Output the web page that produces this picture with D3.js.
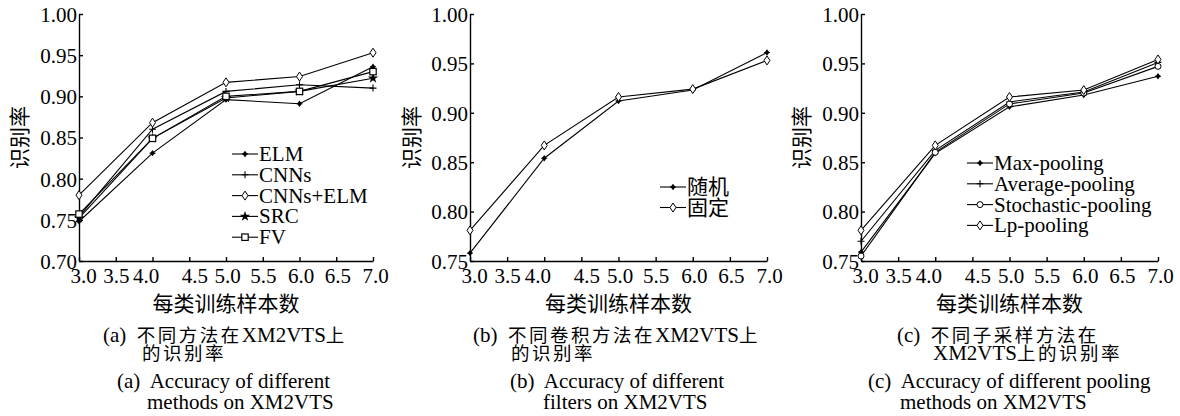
<!DOCTYPE html>
<html>
<head>
<meta charset="utf-8">
<script src="https://cdn.jsdelivr.net/npm/d3@7"></script>
<style>
  body { margin: 0; background: #fff; }
  svg { display: block; }
  text { font-family: "Liberation Serif", "Noto Sans CJK SC", serif; fill: #000; }
</style>
</head>
<body>
<svg id="chart" width="1180" height="416"></svg>
<script>
// Three small-multiple line charts: recognition rate vs. training samples per class

const X_VALUES = [3, 4, 5, 6, 7];
const X_TICKS = [3.0, 3.5, 4.0, 4.5, 5.0, 5.5, 6.0, 6.5, 7.0];
const X_TICK_DX = [4, 0, -7, 5, 1, 0, 1, 1, 2]; // the labels in the scan sit a bit off their ticks

// (a) methods
const A_NAMES = ["ELM", "CNNs", "CNNs+ELM", "SRC", "FV"];
const A_MARKERS = ["filled", "plus", "diamond", "star", "square"];
const A_ELM = [0.748, 0.831, 0.896, 0.891, 0.936];
const A_CNNS = [0.754, 0.860, 0.906, 0.914, 0.910];
const A_CNNS_ELM = [0.780, 0.868, 0.917, 0.924, 0.953];
const A_SRC = [0.752, 0.849, 0.898, 0.906, 0.922];
const A_FV = [0.757, 0.849, 0.900, 0.906, 0.930];
const A_Y_TICKS = [0.70, 0.75, 0.80, 0.85, 0.90, 0.95, 1.00];

// (b) filters
const B_NAMES = ["随机", "固定"];
const B_MARKERS = ["filled", "diamond"];
const B_RANDOM = [0.758, 0.854, 0.912, 0.923, 0.961];
const B_FIXED = [0.781, 0.867, 0.916, 0.924, 0.953];
const B_Y_TICKS = [0.75, 0.80, 0.85, 0.90, 0.95, 1.00];

// (c) pooling
const C_NAMES = ["Max-pooling", "Average-pooling", "Stochastic-pooling", "Lp-pooling"];
const C_MARKERS = ["filled", "plus", "circle", "diamond"];
const C_MAX = [0.759, 0.859, 0.906, 0.918, 0.937];
const C_AVG = [0.770, 0.862, 0.911, 0.921, 0.951];
const C_STOCH = [0.755, 0.860, 0.909, 0.920, 0.947];
const C_LP = [0.781, 0.867, 0.916, 0.923, 0.954];
const C_Y_TICKS = B_Y_TICKS;

const panels = [
  {
    left: 79, right: 373, yDomain: [0.70, 1.00], yTicks: A_Y_TICKS,
    names: A_NAMES, markers: A_MARKERS,
    series: [A_ELM, A_CNNS, A_CNNS_ELM, A_SRC, A_FV],
    legend: { x: 232, y: 154, step: 20.8 },
    yLabelX: 20,
    zh: [["(a)  不同方法在XM2VTS上", 103], ["的识别率", 142]],
    en: [["(a)  Accuracy of different", 117], ["methods on XM2VTS", 147]],
  },
  {
    left: 470, right: 767, yDomain: [0.75, 1.00], yTicks: B_Y_TICKS,
    names: B_NAMES, markers: B_MARKERS,
    series: [B_RANDOM, B_FIXED],
    legend: { x: 660, y: 187, step: 20.5 },
    yLabelX: 412,
    zh: [["(b)  不同卷积方法在XM2VTS上", 473], ["的识别率", 511]],
    en: [["(b)  Accuracy of different", 510], ["filters on XM2VTS", 543]],
  },
  {
    left: 861, right: 1158, yDomain: [0.75, 1.00], yTicks: C_Y_TICKS,
    names: C_NAMES, markers: C_MARKERS,
    series: [C_MAX, C_AVG, C_STOCH, C_LP],
    legend: { x: 967, y: 163, step: 20.8 },
    yLabelX: 802,
    zh: [["(c)  不同子采样方法在", 897], ["XM2VTS上的识别率", 933]],
    en: [["(c)  Accuracy of different pooling", 868], ["methods on XM2VTS", 900]],
  },
];

const TOP = 14;
const BOTTOM = 261;
const FONT = 21;
// Chinese glyphs in the captions are as wide as the Latin em but not as tall
const CJK_CAPTION = 18.5;
const CJK_SPACING = 2.5;

const svg = d3.select("#chart");

function drawMarker(g, type) {
  if (type === "filled") {
    g.append("path").attr("d", "M0,-3.2L2.4,0L0,3.2L-2.4,0Z").attr("fill", "#000");
    g.append("path").attr("d", "M-3,0H3").attr("stroke", "#000").attr("stroke-width", 1);
  } else if (type === "plus") {
    g.append("path").attr("d", "M-3.5,0H3.5M0,-3.5V3.5").attr("stroke", "#000").attr("stroke-width", 1.1);
  } else if (type === "diamond") {
    g.append("path").attr("d", "M0,-4.5L3,0L0,4.5L-3,0Z")
      .attr("fill", "#fff").attr("stroke", "#000").attr("stroke-width", 1);
  } else if (type === "star") {
    g.append("path").attr("d", d3.symbol(d3.symbolStar, 34)()).attr("fill", "#000");
  } else if (type === "square") {
    g.append("rect").attr("x", -3.2).attr("y", -3.2).attr("width", 6.4).attr("height", 6.4)
      .attr("fill", "#fff").attr("stroke", "#000").attr("stroke-width", 1.2);
  } else if (type === "circle") {
    g.append("circle").attr("r", 3).attr("fill", "#fff").attr("stroke", "#000").attr("stroke-width", 1);
  }
}

// mixed-script caption: Latin runs at FONT, Chinese runs smaller but spaced out
function captionText(g, str, x0, y0) {
  const t = g.append("text").attr("x", x0).attr("y", y0)
    .style("font-size", FONT + "px").style("white-space", "pre");
  str.split(/([\u3400-\u9fff]+)/).filter(s => s.length).forEach(run => {
    const cjk = /[\u3400-\u9fff]/.test(run);
    t.append("tspan")
      .style("font-size", (cjk ? CJK_CAPTION : FONT) + "px")
      .style("letter-spacing", (cjk ? CJK_SPACING : 0) + "px")
      .text(run);
  });
}

panels.forEach(p => {
  const x = d3.scaleLinear().domain([3, 7]).range([p.left, p.right]);
  const y = d3.scaleLinear().domain(p.yDomain).range([BOTTOM, TOP]);
  const g = svg.append("g");

  // axes: ticks point into the plot
  const xAxis = g.append("g")
    .attr("transform", `translate(0,${BOTTOM})`)
    .call(d3.axisBottom(x).tickValues(X_TICKS).tickSizeInner(-4).tickSizeOuter(0).tickFormat(d3.format(".1f")));
  xAxis.selectAll("text")
    .attr("y", 22).attr("dy", 0)
    .attr("dx", (d, i) => X_TICK_DX[i])
    .style("font-size", FONT + "px");

  const yAxis = g.append("g")
    .attr("transform", `translate(${p.left},0)`)
    .call(d3.axisLeft(y).tickValues(p.yTicks).tickSizeInner(-4).tickSizeOuter(0).tickFormat(d3.format(".2f")));
  yAxis.selectAll("text")
    .attr("x", -2).attr("dy", "0.35em")
    .style("font-size", FONT + "px");

  g.selectAll(".domain, .tick line").attr("stroke", "#000").attr("stroke-width", 1.4);
  g.selectAll(".tick text").attr("fill", "#000").style("font-family", "Liberation Serif");

  // lines + markers
  const line = d3.line().x((d, i) => x(X_VALUES[i])).y(d => y(d));
  p.series.forEach((vals, s) => {
    g.append("path")
      .datum(vals)
      .attr("d", line)
      .attr("fill", "none")
      .attr("stroke", "#000")
      .attr("stroke-width", 1.1);
    vals.forEach((v, i) => {
      const m = g.append("g").attr("transform", `translate(${x(X_VALUES[i])},${y(v)})`);
      drawMarker(m, p.markers[s]);
    });
  });

  // legend
  const lg = g.append("g").attr("transform", `translate(${p.legend.x},${p.legend.y})`);
  p.names.forEach((name, i) => {
    const row = lg.append("g").attr("transform", `translate(0,${i * p.legend.step})`);
    row.append("line").attr("x1", 0).attr("x2", 26).attr("stroke", "#000").attr("stroke-width", 1.1);
    drawMarker(row.append("g").attr("transform", "translate(13,0)"), p.markers[i]);
    row.append("text").attr("x", 27).attr("y", 7)
      .style("font-size", FONT + "px").text(name);
  });

  // axis titles
  g.append("text")
    .attr("transform", `translate(${p.yLabelX},${(TOP + BOTTOM) / 2}) rotate(-90)`)
    .attr("text-anchor", "middle").attr("dy", "0.35em")
    .style("font-size", FONT + "px")
    .text("识别率");

  g.append("text")
    .attr("x", (p.left + p.right) / 2).attr("y", 311)
    .attr("text-anchor", "middle")
    .style("font-size", FONT + "px")
    .text("每类训练样本数");

  // captions
  const zhY = [342, 360];
  const enY = [388, 409];
  p.zh.forEach(([t, x0], i) => captionText(g, t, x0, zhY[i]));
  p.en.forEach(([t, x0], i) => captionText(g, t, x0, enY[i]));
});
</script>
</body>
</html>
